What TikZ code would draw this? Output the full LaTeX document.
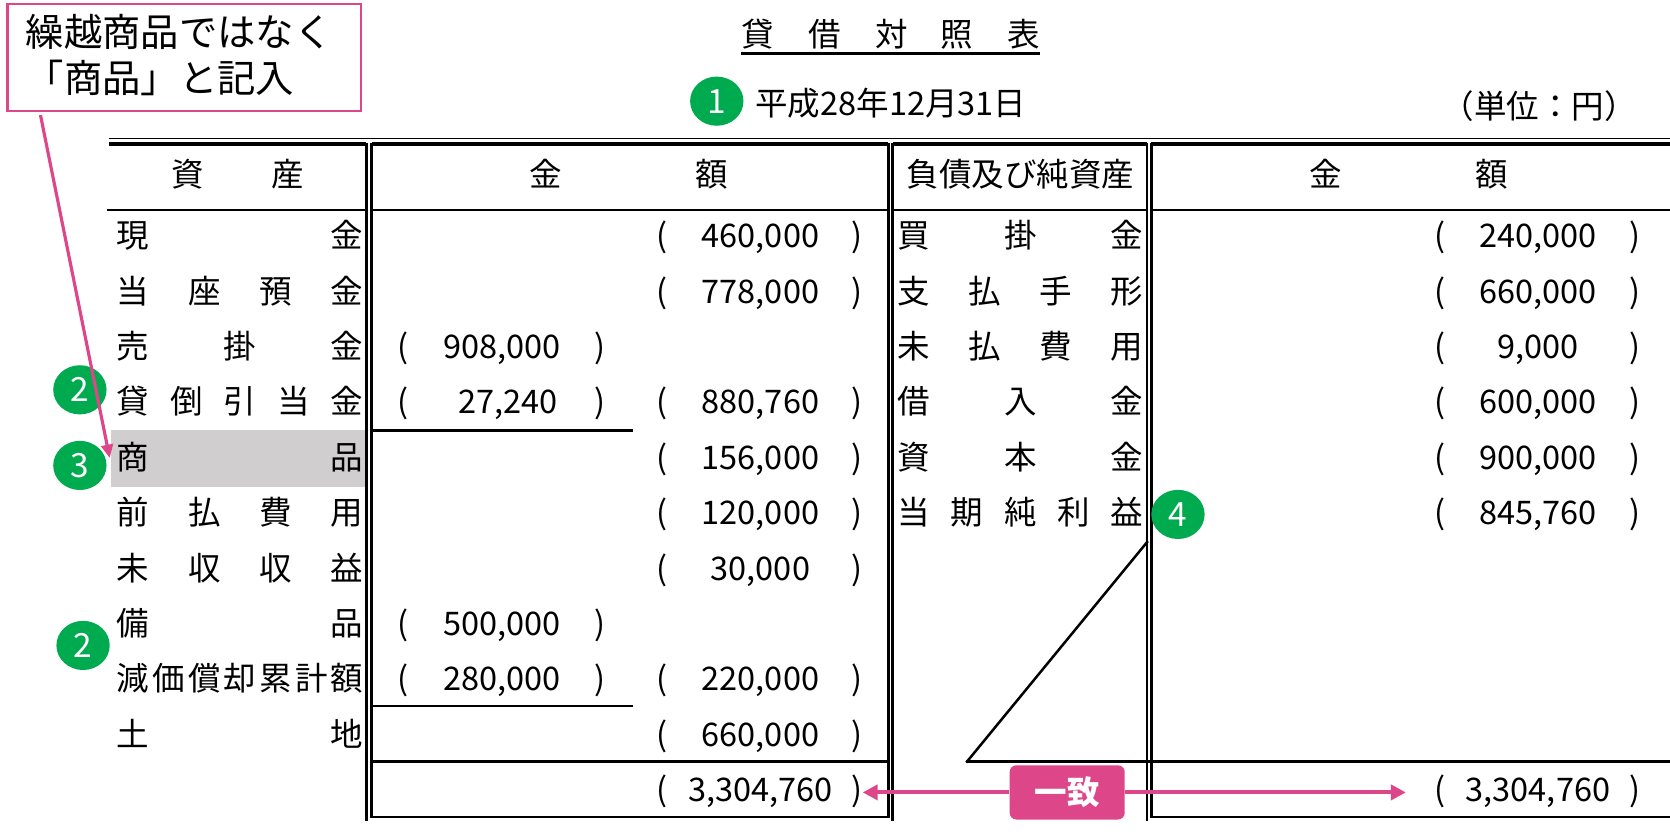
\documentclass[tikz,border=0pt]{standalone}
\usepackage{fontspec}
\setmainfont{Noto Sans CJK JP}
\usetikzlibrary{arrows.meta,shapes.geometric}
\definecolor{pk}{RGB}{221,70,137}
\definecolor{gr}{RGB}{0,171,80}
\definecolor{hl}{RGB}{208,206,206}
% spread characters evenly between xL and xR
\newcommand{\spreadrow}[5]{%
  \foreach \ch [count=\k] in {#5} {\xdef\spreadN{\k}}%
  \foreach \ch [count=\k] in {#5} {%
    \pgfmathsetmacro{\cx}{#2+15+(\k-1)*(#3-#2-30)/(\spreadN-1)}%
    \node[txt] (#1-\k) at (\cx,#4) {\ch};
  }%
}
\begin{document}
\begin{tikzpicture}[x=0.6389pt,y=-0.6389pt,
  txt/.style={inner sep=0pt,text height=17.2pt,text depth=2.3pt,font=\fontsize{19.5pt}{22pt}\selectfont},
  rule/.style={line width=1.5pt,line cap=rect},
  thinrule/.style={line width=1.1pt},
  thickrule/.style={line width=2.2pt},
  numdot/.style={ellipse,fill=gr,text=white,inner sep=0pt,minimum width=32pt,minimum height=29.5pt,font=\fontsize{20pt}{22pt}\selectfont},
  callbox/.style={draw=pk,line width=1.3pt,minimum width=212pt,minimum height=63.9pt,inner sep=0pt},
  calltxt/.style={inner sep=0pt,anchor=west,text height=20.2pt,text depth=2.8pt,font=\fontsize{23pt}{26pt}\selectfont},
  matchbox/.style={fill=pk,rounded corners=4pt,minimum width=69pt,minimum height=32.5pt,text=white,font=\fontsize{19.5pt}{22pt}\selectfont\bfseries},
  pkarrow/.style={draw=pk,line width=2.4pt,-{Triangle[length=9pt,width=9pt]}},
  leadarrow/.style={draw=pk,line width=1.9pt,-{Triangle[length=8pt,width=7pt]}}
]
\useasboundingbox (0,0) rectangle (1568,783);

% highlight of 商品 row
\fill[hl] (104,404) rectangle (344,457);

% title and date
\foreach \ch/\xx [count=\k] in {貸/711,借/774,対/837,照/898,表/961}
  \node[txt] (title-\k) at (\xx,32) {\ch};
\draw[line width=1.5pt] (696,50) -- (976,50);
\node[numdot] (n1) at (673,95) {1};
\node[txt,anchor=west] (date) at (709,97) {平成28年12月31日};
\node[txt,anchor=east] (unit) at (1537,100) {（単位：円）};

% table rules
\draw[thinrule] (102,130) -- (1568,130);
\draw[thickrule] (102,135) -- (344,135);
\draw[thickrule] (349,135) -- (834,135);
\draw[thickrule] (838,135) -- (1077,135);
\draw[thickrule] (1081,135) -- (1568,135);
\draw[rule] (102,197) -- (344,197);
\draw[rule] (349,197) -- (834,197);
\draw[rule] (838,197) -- (1077,197);
\draw[rule] (1081,197) -- (1568,197);
\draw[rule] (344,135) -- (344,770);
\draw[rule] (349,135) -- (349,767) -- (834,767) -- (834,135);
\draw[rule] (838,135) -- (838,770);
\draw[rule] (1077,135) -- (1077,770);
\draw[rule] (1081,135) -- (1081,767) -- (1568,767);
\draw[rule] (349,715) -- (834,715);
\draw[rule] (908,715) -- (1568,715);
\draw[rule] (908,715) -- (1077,509);
\draw[rule] (349,404) -- (593,404);
\draw[rule] (349,663) -- (593,663);

% headers
\node[txt] (h-a1) at (176,163) {資};
\node[txt] (h-a2) at (270,163) {産};
\node[txt] (h-k1) at (512,163) {金};
\node[txt] (h-k2) at (668,163) {額};
\node[txt] (h-l) at (958,163) {負債及び純資産};
\node[txt] (h-r1) at (1245,163) {金};
\node[txt] (h-r2) at (1401,163) {額};

% asset labels
\spreadrow{a1}{110}{341}{221}{現,金}
\spreadrow{a2}{110}{341}{273}{当,座,預,金}
\spreadrow{a3}{110}{341}{325}{売,掛,金}
\spreadrow{a4}{110}{341}{377}{貸,倒,引,当,金}
\spreadrow{a5}{110}{341}{429}{商,品}
\spreadrow{a6}{110}{341}{481}{前,払,費,用}
\spreadrow{a7}{110}{341}{533}{未,収,収,益}
\spreadrow{a8}{110}{341}{585}{備,品}
\spreadrow{a9}{110}{341}{637}{減,価,償,却,累,計,額}
\spreadrow{a10}{110}{341}{689}{土,地}

% liability labels
\spreadrow{l1}{843}{1073}{221}{買,掛,金}
\spreadrow{l2}{843}{1073}{273}{支,払,手,形}
\spreadrow{l3}{843}{1073}{325}{未,払,費,用}
\spreadrow{l4}{843}{1073}{377}{借,入,金}
\spreadrow{l5}{843}{1073}{429}{資,本,金}
\spreadrow{l6}{843}{1073}{481}{当,期,純,利,益}

% left inner amounts
\foreach \yy/\amt/\xx [count=\k] in {325/908{,}000/471,377/27{,}240/477,585/500{,}000/471,637/280{,}000/471} {
  \node[txt] (la-\k) at (\xx,\yy) {\amt};
  \node[txt] (lo-\k) at (378,\yy) {(};
  \node[txt] (lc-\k) at (563,\yy) {)};
}
% right asset amounts
\foreach \yy/\amt [count=\k] in {221/460{,}000,273/778{,}000,377/880{,}760,429/156{,}000,481/120{,}000,533/30{,}000,637/220{,}000,689/660{,}000} {
  \node[txt] (ra-\k) at (714,\yy) {\amt};
  \node[txt] (ro-\k) at (622,\yy) {(};
  \node[txt] (rc-\k) at (805,\yy) {)};
}
\node[txt] (tA) at (714,741) {3,304,760};
\node[txt] (tAo) at (622,741) {(};
\node[txt] (tAc) at (805,741) {)};

% liability amounts
\foreach \yy/\amt [count=\k] in {221/240{,}000,273/660{,}000,325/9{,}000,377/600{,}000,429/900{,}000,481/845{,}760} {
  \node[txt] (pa-\k) at (1444,\yy) {\amt};
  \node[txt] (po-\k) at (1352,\yy) {(};
  \node[txt] (pc-\k) at (1535,\yy) {)};
}
\node[txt] (tL) at (1444,741) {3,304,760};
\node[txt] (tLo) at (1352,741) {(};
\node[txt] (tLc) at (1535,741) {)};

% green markers
\node[numdot] (n2a) at (75,366) {2};
\node[numdot] (n3) at (75,437) {3};
\node[numdot] (n2b) at (78,606) {2};
\node[numdot] (n4) at (1106,483) {4};

% callout
\node[callbox] (note) at (173,54) {};
\node[calltxt] (note1) at (24,30) {繰越商品ではなく};
\node[calltxt] (note2) at (24,73) {「商品」と記入};
\coordinate (leadS) at (38,108);
\coordinate (leadE) at (103,430);
\draw[leadarrow] (leadS) -- (leadE);

% match
\node[matchbox] (match) at (1002,744) {一致};
\coordinate (totLtip) at (810,744);
\coordinate (totRtip) at (1320,744);
\draw[pkarrow] (match.west) -- (totLtip);
\draw[pkarrow] (match.east) -- (totRtip);
\end{tikzpicture}
\end{document}
